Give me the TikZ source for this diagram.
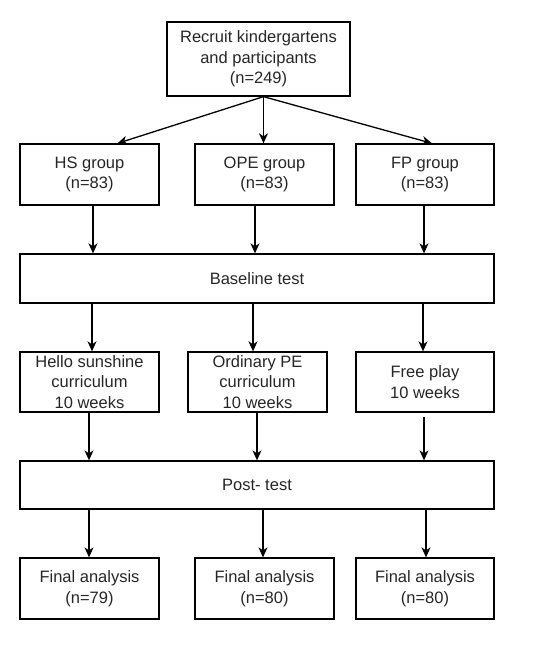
\documentclass[tikz,border=0pt]{standalone}
\usepackage{fontspec}
\setmainfont{Liberation Sans}
\usetikzlibrary{arrows.meta}
\begin{document}
\begin{tikzpicture}[x=1pt,y=-1pt,
  box/.style={draw,line width=1.3pt,align=center,inner sep=0pt,
    font=\fontsize{16.5}{20.5}\selectfont,text=black!85},
  arr/.style={line width=1.3pt,-{Stealth[length=10pt,width=9pt,inset=3pt]}}]
\useasboundingbox (0,0) rectangle (550,645);
\node[box,minimum width=183pt,minimum height=74pt] (top) at (258.5,59) {Recruit kindergartens\\and participants\\(n=249)};
\node[box,minimum width=139pt,minimum height=61pt] (hs) at (89.5,174.5) {HS group\\(n=83)};
\node[box,minimum width=139pt,minimum height=61pt] (ope) at (264.5,174.5) {OPE group\\(n=83)};
\node[box,minimum width=138pt,minimum height=61pt] (fp) at (425,174.5) {FP group\\(n=83)};
\node[box,minimum width=474pt,minimum height=49pt] (base) at (257,278.5) {Baseline test};
\node[box,minimum width=139pt,minimum height=60pt] (hsc) at (89.5,382) {Hello sunshine\\curriculum\\10 weeks};
\node[box,minimum width=139pt,minimum height=60pt] (opc) at (257.5,382) {Ordinary PE\\curriculum\\10 weeks};
\node[box,minimum width=138pt,minimum height=60pt] (fpc) at (425,382) {Free play\\10 weeks};
\node[box,minimum width=474pt,minimum height=48pt] (post) at (257,485) {Post- test};
\node[box,minimum width=139pt,minimum height=61pt] (hsf) at (89.5,588.5) {Final analysis\\(n=79)};
\node[box,minimum width=139pt,minimum height=61pt] (opf) at (264.5,588.5) {Final analysis\\(n=80)};
\node[box,minimum width=138pt,minimum height=61pt] (fpf) at (425,588.5) {Final analysis\\(n=80)};
\coordinate (ts) at ([xshift=5pt]top.south);
\draw[arr] (ts) -- ([xshift=28pt]hs.north);
\draw[arr] (ts) -- (ts |- ope.north);
\draw[arr] (ts) -- ([xshift=7pt]fp.north);
\draw[arr] ([xshift=3.5pt]hs.south) -- ([xshift=3.5pt]hs.south |- base.north);
\draw[arr] ([xshift=-9.5pt]ope.south) -- ([xshift=-9.5pt]ope.south |- base.north);
\draw[arr] ([xshift=-1pt]fp.south) -- ([xshift=-1pt]fp.south |- base.north);
\draw[arr] ([xshift=2.5pt]hs.south |- base.south) -- ([xshift=2.5pt]hsc.north);
\draw[arr] ([xshift=-4.5pt]opc.north |- base.south) -- ([xshift=-4.5pt]opc.north);
\draw[arr] ([xshift=-2pt]fpc.north |- base.south) -- ([xshift=-2pt]fpc.north);
\draw[arr] ([xshift=-0.5pt]hsc.south) -- ([xshift=-0.5pt]hsc.south |- post.north);
\draw[arr] ([xshift=-0.5pt]opc.south) -- ([xshift=-0.5pt]opc.south |- post.north);
\draw[arr] ([xshift=-1pt,yshift=-4pt]fpc.south) -- ([xshift=-1pt]fpc.south |- post.north);
\draw[arr] ([xshift=-0.5pt]hsf.north |- post.south) -- ([xshift=-0.5pt]hsf.north);
\draw[arr] ([xshift=-1.5pt]opf.north |- post.south) -- ([xshift=-1.5pt]opf.north);
\draw[arr] ([xshift=1pt]fpf.north |- post.south) -- ([xshift=1pt]fpf.north);
\end{tikzpicture}
\end{document}
